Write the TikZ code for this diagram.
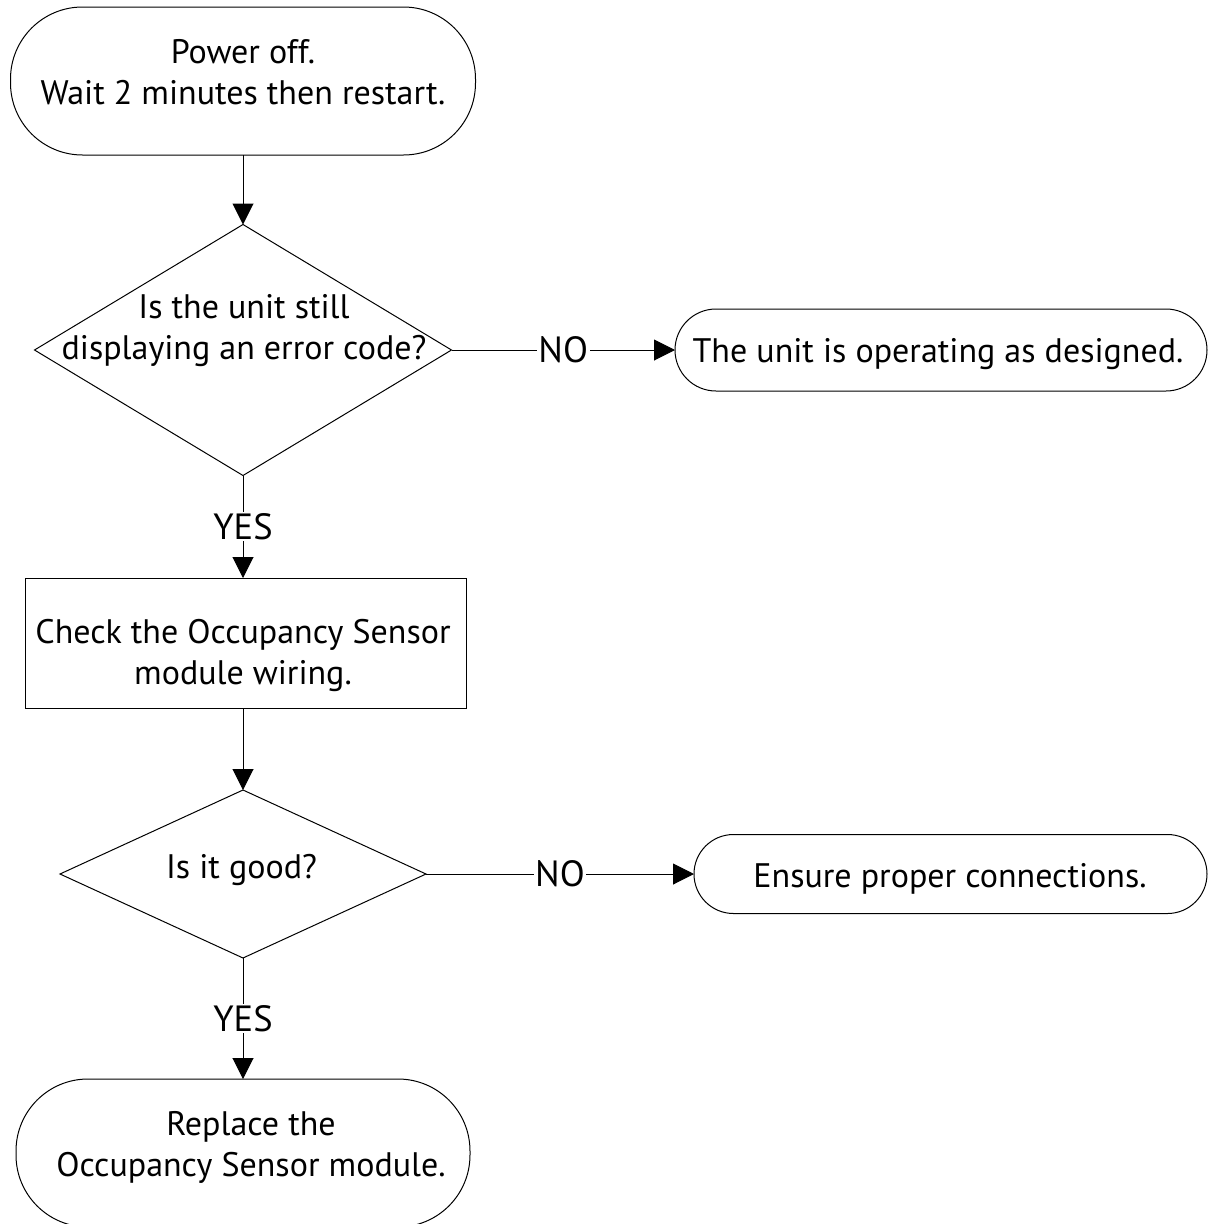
\documentclass[tikz,border=0pt]{standalone}
\usepackage{fontspec}
\setmainfont{PT Sans}
\usetikzlibrary{arrows.meta,shapes.geometric}
\begin{document}
\begin{tikzpicture}[x=1pt,y=-1pt,
  every node/.style={font=\fontsize{34}{41}\selectfont},
  shp/.style={draw, line width=1pt, inner sep=0pt, outer sep=0pt},
  term/.style={shp, rectangle},
  dia/.style={shp, diamond},
  boxnode/.style={shp, rectangle},
  txt/.style={align=center, inner sep=0pt, anchor=base},
  lbl/.style={fill=white, inner sep=1.5pt, font=\fontsize{36.5}{41}\selectfont},
  arr/.style={line width=1pt, -{Triangle[length=21pt,width=21pt]}}]
\useasboundingbox (0,0) rectangle (1213,1224);
% shapes
\node[term, rounded corners=72pt, minimum width=465pt, minimum height=148pt] (start) at (243,81) {};
\node[dia, minimum width=417pt, minimum height=251pt] (q1) at (243,350) {};
\node[term, rounded corners=41pt, minimum width=532pt, minimum height=82pt] (ok) at (941,350) {};
\node[boxnode, minimum width=441pt, minimum height=130pt] (chk) at (245.5,643) {};
\node[dia, minimum width=366pt, minimum height=168pt] (q2) at (243,874) {};
\node[term, rounded corners=39.5pt, minimum width=513pt, minimum height=79pt] (fix) at (950.5,874) {};
\node[term, rounded corners=72pt, minimum width=454pt, minimum height=148pt] (repl) at (243,1153) {};
% texts (base anchor = baseline of the last line)
\node[txt] (startt) at (243,104) {Power off.\\Wait 2 minutes then restart.};
\node[txt] (q1t) at (244,359) {Is the unit still\\displaying an error code?};
\node[txt] (okt) at (938,362) {The unit is operating as designed.};
\node[txt] (chkt) at (243,684) {Check the Occupancy Sensor\\module wiring.};
\node[txt] (q2t) at (241.5,878) {Is it good?};
\node[txt] (fixt) at (950,887) {Ensure proper connections.};
\node[txt] (replt) at (251,1176) {Replace the\\Occupancy Sensor module.};
% connectors
\draw[arr] (start.south) -- (q1.north);
\draw[arr] (q1.south) -- node[lbl] (yes1) {YES} (q1.south |- chk.north);
\draw[arr] (q1.east) -- node[lbl] (no1) {NO} (ok.west);
\draw[arr] (q1.south |- chk.south) -- (q2.north);
\draw[arr] (q2.east) -- node[lbl] (no2) {NO} (fix.west);
\draw[arr] (q2.south) -- node[lbl] (yes2) {YES} (repl.north);
\end{tikzpicture}
\end{document}
